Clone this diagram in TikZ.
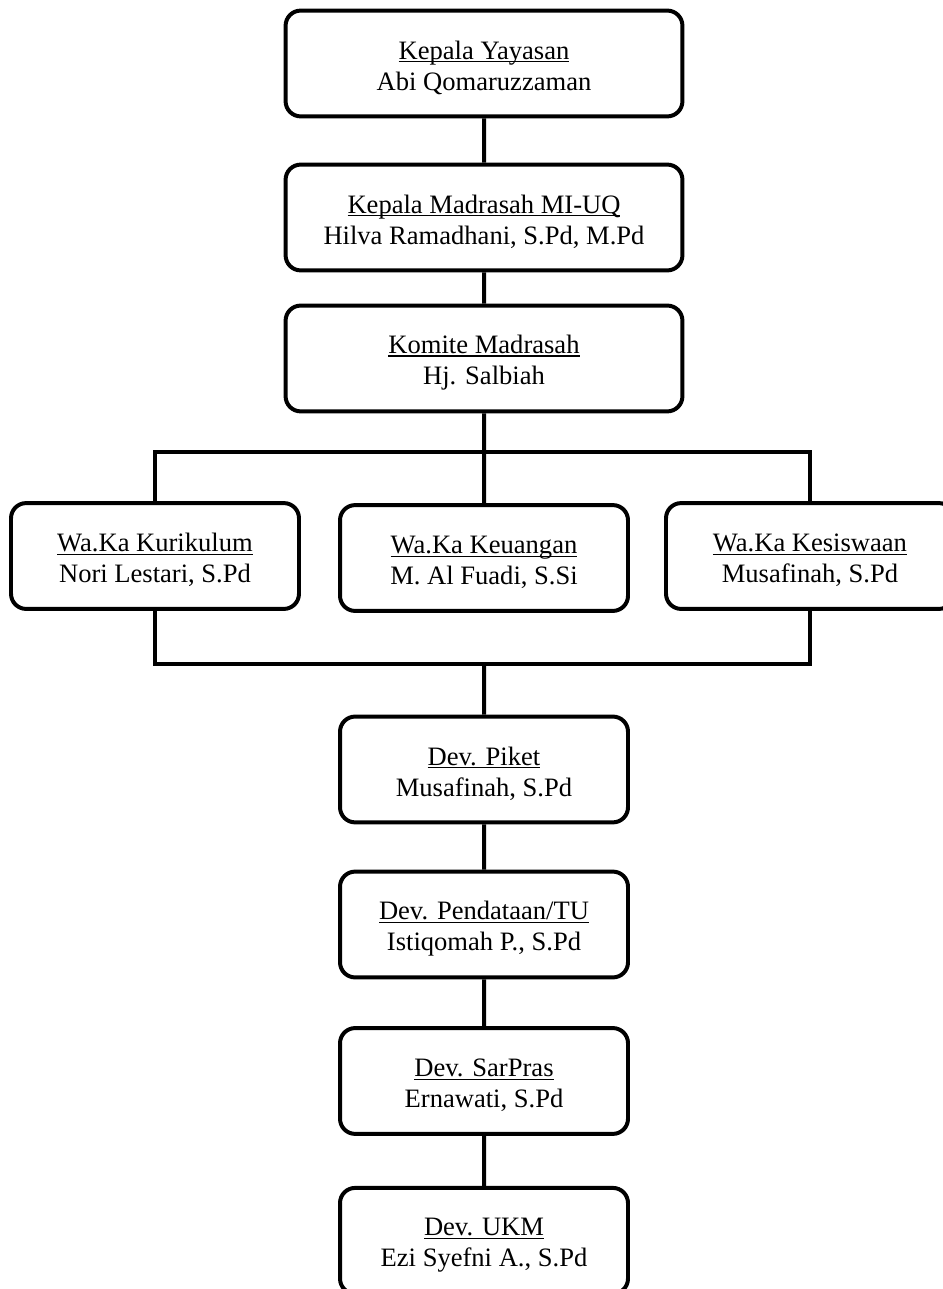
\documentclass[tikz,border=0pt]{standalone}
\usepackage{fontspec}
\setmainfont{Liberation Serif}
\newcommand{\jabatan}[1]{\setbox0\hbox{#1}\rule{0pt}{20pt}\rlap{\rule[-2.4pt]{\wd0}{0.9pt}}\box0}
\begin{document}
\begin{tikzpicture}[scale=0.1]
\tikzstyle{every node}+=[inner sep=0pt, align=center, font=\fontsize{20}{23.25}\selectfont]
\tikzstyle{kotak}=[draw=black, line width=3pt, rounded corners=4mm, minimum height=28mm]
\tikzstyle{lebar}=[kotak, minimum width=105mm]
\tikzstyle{sempit}=[kotak, minimum width=76.2mm]
\tikzstyle{garis}=[black, line width=3pt]
\useasboundingbox (0,0) rectangle (249.5,-341.05);
\node [lebar] (yayasan) at (128.06,-16.8) {\jabatan{Kepala Yayasan}\\Abi Qomaruzzaman};
\node [lebar] (madrasah) at (128.06,-57.55) {\jabatan{Kepala Madrasah MI-UQ}\\Hilva Ramadhani, S.Pd, M.Pd};
\node [lebar] (komite) at (128.06,-94.85) {\jabatan{Komite Madrasah}\\Hj. Salbiah};
\node [sempit] (kurikulum) at (41.01,-147.11) {\jabatan{Wa.Ka Kurikulum}\\Nori Lestari, S.Pd};
\node [sempit] (keuangan) at (128.06,-147.64) {\jabatan{Wa.Ka Keuangan}\\M. Al Fuadi, S.Si};
\node [sempit] (kesiswaan) at (214.31,-147.11) {\jabatan{Wa.Ka Kesiswaan}\\Musafinah, S.Pd};
\node [sempit] (piket) at (128.06,-203.59) {\jabatan{Dev. Piket}\\Musafinah, S.Pd};
\node [sempit] (pendataan) at (128.06,-244.61) {\jabatan{Dev. Pendataan/TU}\\Istiqomah P., S.Pd};
\node [sempit] (sarpras) at (128.06,-286.01) {\jabatan{Dev. SarPras}\\Ernawati, S.Pd};
\node [sempit] (ukm) at (128.06,-328.3) {\jabatan{Dev. UKM}\\Ezi Syefni A., S.Pd};
\coordinate (cabang) at (128.06,-119.59);
\coordinate (gabung) at (128.06,-175.68);
\draw [garis] (yayasan) -- (madrasah);
\draw [garis] (madrasah) -- (komite);
\draw [garis] (komite) -- (cabang);
\draw [garis] (kurikulum.north) |- (cabang) -| (kesiswaan.north);
\draw [garis] (cabang) -- (keuangan);
\draw [garis] (kurikulum.south) |- (gabung) -| (kesiswaan.south);
\draw [garis] (gabung) -- (piket);
\draw [garis] (piket) -- (pendataan);
\draw [garis] (pendataan) -- (sarpras);
\draw [garis] (sarpras) -- (ukm);
\end{tikzpicture}
\end{document}
